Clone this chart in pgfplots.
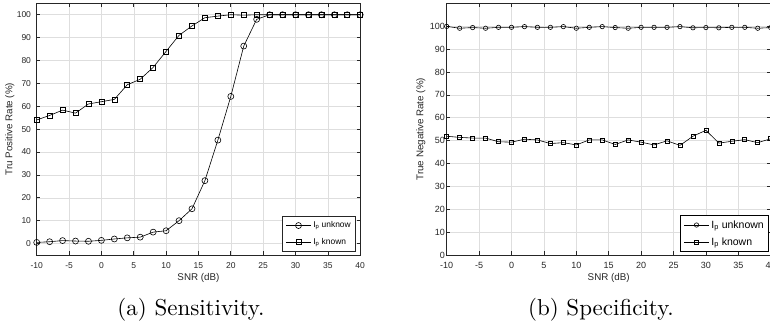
\documentclass[border=0pt]{standalone}
\usepackage{pgfplots}
\pgfplotsset{compat=1.18}
\usepackage{fontspec}
\newfontfamily\hel{Liberation Sans}
\newfontfamily\capfont{lmroman10-regular}[Extension=.otf]
\definecolor{axgray}{gray}{0.15}
\definecolor{gridgray}{gray}{0.87}

\pgfplotstableread{
x unk kno
-10 0.5 54.0
-8 0.8 56.0
-6 1.3 58.3
-4 1.1 57.0
-2 1.0 61.0
0 1.4 62.0
2 2.0 63.0
4 2.5 69.4
6 2.8 71.8
8 5.0 77.0
10 5.6 84.0
12 10.0 91.0
14 15.2 95.1
16 27.5 98.7
18 45.2 99.4
20 64.3 100
22 86.3 99.8
24 98.0 100
26 100 100
28 100 100
30 100 100
32 100 100
34 100 100
36 100 100
38 100 100
40 100 100
}\sens

\pgfplotstableread{
x unk kno
-10 99.9 51.9
-8 99.1 51.4
-6 99.4 51.1
-4 99.1 51.1
-2 99.5 49.5
0 99.5 49.3
2 99.8 50.6
4 99.5 50.3
6 99.5 48.7
8 99.8 49.1
10 99.1 48.1
12 99.5 50.3
14 99.8 50.3
16 99.4 48.3
18 99.1 50.3
20 99.5 49.3
22 99.5 48.1
24 99.5 49.9
26 99.8 47.9
28 99.3 51.9
30 99.4 54.5
32 99.3 48.9
34 99.5 49.7
36 99.5 50.4
38 99.1 49.1
40 99.4 50.8
}\spec

\pgfplotsset{matlab/.style={
  scale only axis, width=323.5pt, height=251.7pt,
  xmin=-10, xmax=40, xtick={-10,-5,...,40},
  ytick={0,10,...,100},
  axis line style={axgray, line width=0.6pt},
  tick style={axgray, line width=0.6pt},
  major tick length=3.5pt, tick align=inside,
  xtick pos=both, ytick pos=both,
  grid=major, major grid style={gridgray, line width=0.5pt},
  /pgf/number format/assume math mode=true,
  ticklabel style={text=axgray},
  label style={font=\hel\fontsize{9.8}{11}\selectfont, text=axgray},
  clip=false,
  every axis plot/.append style={black, line width=0.6pt, mark options={solid, line width=0.6pt}},
  legend cell align=left,
  legend image code/.code={
    \draw[mark repeat=2,mark phase=2,##1] plot coordinates {(0pt,0pt) (12.5pt,0pt) (25pt,0pt)};
  },
}}

\begin{document}
\begin{tikzpicture}
\useasboundingbox (0,0) rectangle (770pt,329pt);
\clip (0,0) rectangle (770pt,329pt);

\begin{axis}[matlab,
  at={(36.7pt,74pt)}, anchor=south west,
  ymin=-5, ymax=105,
  ticklabel style={font=\hel\fontsize{8.5}{10}\selectfont},
  xticklabel style={yshift=-4pt},
  yticklabel style={xshift=-2.2pt},
  xlabel={SNR (dB)}, ylabel={Tru Positive Rate (\%)},
  xlabel style={at={(axis description cs:0.5,-0.09)}, anchor=center},
  ylabel style={at={(axis description cs:-0.083,0.5)}, anchor=center},
  legend style={at={(rel axis cs:0.987,0.013)}, anchor=south east,
    draw=axgray, line width=0.6pt, fill=white,
    font=\hel\fontsize{8.4}{9}\selectfont,
    inner xsep=3pt, inner ysep=3.5pt, row sep=5pt,
    nodes={inner sep=2pt}},
]
\addplot[mark=o, mark size=3pt] table[x=x,y=unk] {\sens};
\addlegendentry{I\textsubscript{p} unknow}
\addplot[mark=square, mark size=2.5pt] table[x=x,y=kno] {\sens};
\addlegendentry{I\textsubscript{p} known}
\end{axis}

\begin{axis}[matlab,
  at={(446.7pt,74pt)}, anchor=south west, width=324pt,
  ymin=0, ymax=110,
  ticklabel style={font=\hel\fontsize{9}{10}\selectfont},
  xticklabel style={yshift=-4pt},
  yticklabel style={xshift=1.8pt},
  xlabel={SNR (dB)}, ylabel={True Negative Rate (\%)},
  xlabel style={at={(axis description cs:0.5,-0.09)}, anchor=center},
  ylabel style={at={(axis description cs:-0.08,0.5)}, anchor=center},
  legend style={at={(rel axis cs:0.995,0.012)}, anchor=south east,
    draw=black, line width=0.6pt, fill=white,
    font=\hel\fontsize{10.5}{12}\selectfont,
    inner xsep=3pt, inner ysep=3pt, row sep=4pt,
    nodes={inner sep=2pt}},
]
\addplot[mark=o, mark size=2.2pt] table[x=x,y=unk] {\spec};
\addlegendentry{I\textsubscript{p} unknown}
\addplot[mark=square, mark size=2pt] table[x=x,y=kno] {\spec};
\addlegendentry{I\textsubscript{p} known}
\end{axis}

\node[font=\capfont\fontsize{23}{27}\selectfont, anchor=base] at (191pt,14pt) {(a) Sensitivity.};
\node[font=\capfont\fontsize{23}{27}\selectfont, anchor=base] at (601pt,14pt) {(b) Specificity.};
\end{tikzpicture}
\end{document}
